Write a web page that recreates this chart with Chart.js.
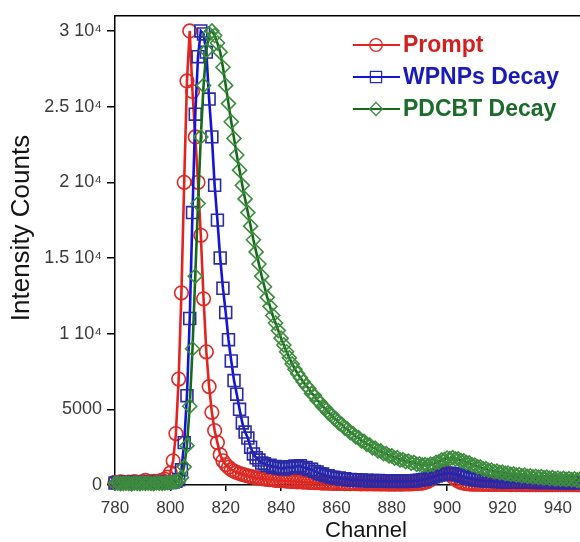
<!DOCTYPE html>
<html>
<head>
<meta charset="utf-8">
<script src="https://cdn.jsdelivr.net/npm/chart.js@4.4.0/dist/chart.umd.min.js"></script>
<style>
  html, body { margin: 0; padding: 0; background: #fff; }
  #wrap { width: 580px; height: 542px; }
</style>
</head>
<body>
<div id="wrap"><canvas id="decayChart" width="580" height="542"></canvas></div>
<script>
const channels = [
  780, 781, 782, 783, 784, 785, 786, 787, 788, 789,
  790, 791, 792, 793, 794, 795, 796, 797, 798, 799,
  800, 801, 802, 803, 804, 805, 806, 807, 808, 809,
  810, 811, 812, 813, 814, 815, 816, 817, 818, 819,
  820, 821, 822, 823, 824, 825, 826, 827, 828, 829,
  830, 831, 832, 833, 834, 835, 836, 837, 838, 839,
  840, 841, 842, 843, 844, 845, 846, 847, 848, 849,
  850, 851, 852, 853, 854, 855, 856, 857, 858, 859,
  860, 861, 862, 863, 864, 865, 866, 867, 868, 869,
  870, 871, 872, 873, 874, 875, 876, 877, 878, 879,
  880, 881, 882, 883, 884, 885, 886, 887, 888, 889,
  890, 891, 892, 893, 894, 895, 896, 897, 898, 899,
  900, 901, 902, 903, 904, 905, 906, 907, 908, 909,
  910, 911, 912, 913, 914, 915, 916, 917, 918, 919,
  920, 921, 922, 923, 924, 925, 926, 927, 928, 929,
  930, 931, 932, 933, 934, 935, 936, 937, 938, 939,
  940, 941, 942, 943, 944, 945, 946, 947, 948
];

const promptCounts = [
  170, 150, 210, 180, 140, 190, 160, 220, 170, 150,
  230, 310, 210, 180, 240, 200, 260, 300, 380, 520,
  800, 1600, 3400, 7000, 12700, 20000, 26700, 30000, 26000, 23000,
  20000, 16500, 12300, 8800, 6500, 4800, 3600, 2800, 2000, 1600,
  1350, 1180, 1010, 920, 830, 760, 700, 650, 600, 560,
  520, 470, 460, 420, 410, 370, 360, 350, 310, 300,
  290, 280, 250, 260, 230, 240, 210, 220, 190, 200,
  170, 180, 160, 150, 160, 130, 140, 120, 130, 110,
  120, 100, 110, 95, 105, 90, 100, 85, 95, 80,
  90, 75, 85, 70, 80, 70, 75, 65, 70, 60,
  65, 60, 70, 55, 65, 70, 80, 75, 95, 100,
  115, 130, 170, 240, 340, 480, 640, 790, 880, 900,
  840, 700, 530, 380, 260, 180, 120, 90, 75, 60,
  55, 50, 55, 45, 50, 40, 45, 40, 45, 35,
  40, 35, 40, 30, 35, 30, 35, 30, 30, 25,
  30, 25, 30, 25, 25, 30, 20, 25, 25, 20,
  25, 20, 25, 20, 20, 25, 20, 20, 15
];

const wpnpsCounts = [
  130, 160, 110, 150, 180, 120, 140, 170, 130, 160,
  120, 150, 180, 140, 110, 160, 130, 170, 150, 190,
  170, 200, 240, 350, 1000, 2800, 5900, 11000, 18000, 24500,
  28300, 30000, 29800, 28600, 25500, 23000, 19800, 17500, 15000, 13000,
  11400, 9600, 8200, 6900, 6000, 5000, 4100, 3500, 3100, 2500,
  2050, 1800, 1650, 1450, 1400, 1280, 1300, 1180, 1220, 1120,
  1150, 1060, 1180, 1200, 1120, 1260, 1220, 1280, 1130, 1160,
  1020, 1040, 900, 860, 740, 720, 620, 610, 520, 520,
  450, 460, 390, 410, 350, 370, 320, 350, 300, 330,
  280, 310, 270, 300, 250, 290, 250, 280, 240, 270,
  230, 280, 240, 270, 230, 260, 250, 280, 270, 300,
  310, 350, 380, 430, 470, 540, 590, 660, 700, 750,
  760, 770, 750, 710, 660, 600, 540, 480, 430, 390,
  350, 330, 300, 290, 260, 260, 240, 240, 220, 230,
  210, 220, 200, 210, 190, 210, 190, 200, 180, 200,
  180, 190, 170, 190, 170, 180, 160, 180, 160, 170,
  160, 170, 150, 170, 150, 160, 150, 160, 150
];

const pdcbtCounts = [
  100, 120, 90, 110, 130, 100, 80, 120, 110, 90,
  130, 100, 120, 110, 90, 140, 120, 100, 130, 150,
  180, 200, 220, 260, 500, 1200, 2600, 5200, 9000, 13800,
  18600, 23000, 26400, 28700, 29800, 30000, 29700, 29200, 28600, 27600,
  26400, 25200, 24000, 22900, 21800, 20800, 19800, 18900, 18000, 17100,
  16200, 15400, 14600, 13800, 13100, 12400, 11800, 11200, 10700, 10200,
  9700, 9250, 8800, 8400, 8000, 7650, 7350, 7080, 6820, 6570,
  6380, 6050, 5920, 5600, 5470, 5180, 5060, 4790, 4680, 4420,
  4330, 4080, 4000, 3760, 3690, 3460, 3400, 3180, 3130, 2920,
  2880, 2680, 2650, 2460, 2440, 2260, 2250, 2080, 2080, 1920,
  1930, 1780, 1800, 1660, 1680, 1550, 1580, 1450, 1490, 1370,
  1400, 1310, 1350, 1290, 1380, 1370, 1500, 1520, 1660, 1670,
  1780, 1750, 1810, 1720, 1730, 1610, 1600, 1470, 1460, 1330,
  1320, 1190, 1190, 1070, 1080, 970, 990, 890, 910, 820,
  850, 760, 790, 700, 730, 650, 690, 610, 650, 570,
  610, 530, 575, 500, 545, 470, 515, 440, 485, 410,
  460, 390, 440, 370, 420, 350, 400, 330, 380
];

const seriesNames = ["Prompt", "WPNPs Decay", "PDCBT Decay"];
const xTickValues = [780, 800, 820, 840, 860, 880, 900, 920, 940];
const yTickValues = [0, 5000, 10000, 15000, 20000, 25000, 30000];
const yTickLabels = ["0", "5000", "1 10\u2074", "1.5 10\u2074", "2 10\u2074", "2.5 10\u2074", "3 10\u2074"];

const FONT = "'Liberation Sans', Arial, sans-serif";

// look of each series: line colour, marker outline, legend text colour, marker shape
const looks = [
  { line: "#e5231e", marker: "#dc2a25", text: "#d41f1f", shape: "circle", radius: 6.8 },
  { line: "#1414d8", marker: "#2a2aa6", text: "#1a1ab8", shape: "rect", radius: 8.4 },
  { line: "#156a1c", marker: "#3e8c3e", text: "#1b6b2b", shape: "rectRot", radius: 7 }
];

const toPoints = (ys) => channels.map((c, i) => ({ x: c, y: ys[i] }));

const makeDataset = (idx, ys, order) => ({
  label: seriesNames[idx],
  data: toPoints(ys),
  borderColor: looks[idx].line,
  borderWidth: 2.6,
  pointStyle: looks[idx].shape,
  pointRadius: looks[idx].radius,
  pointHoverRadius: looks[idx].radius,
  pointBorderWidth: 1.6,
  pointBorderColor: looks[idx].marker,
  pointBackgroundColor: "rgba(0,0,0,0)",
  tension: 0,
  clip: false,
  order: order,
});

function drawMarker(ctx, shape, x, y, r) {
  ctx.beginPath();
  if (shape === "circle") {
    ctx.arc(x, y, r, 0, Math.PI * 2);
  } else if (shape === "rect") {
    const s = r * Math.SQRT1_2;
    ctx.rect(x - s, y - s, 2 * s, 2 * s);
  } else {
    ctx.moveTo(x, y - r);
    ctx.lineTo(x + r, y);
    ctx.lineTo(x, y + r);
    ctx.lineTo(x - r, y);
    ctx.closePath();
  }
  ctx.stroke();
}

const decorations = {
  id: "decorations",
  beforeDatasetsDraw(chart) {
    const { ctx, chartArea } = chart;
    // top frame line
    ctx.save();
    ctx.strokeStyle = "#000";
    ctx.lineWidth = 1.5;
    ctx.beginPath();
    ctx.moveTo(chartArea.left, chartArea.top);
    ctx.lineTo(chartArea.right, chartArea.top);
    ctx.stroke();
    ctx.restore();
  },
  afterDraw(chart) {
    const ctx = chart.ctx;
    ctx.save();

    // legend inside the plot
    const rowsY = [45, 77, 109];
    seriesNames.forEach((name, i) => {
      const y = rowsY[i];
      ctx.strokeStyle = looks[i].line;
      ctx.lineWidth = 2.2;
      ctx.beginPath();
      ctx.moveTo(353, y);
      ctx.lineTo(400, y);
      ctx.stroke();
      ctx.strokeStyle = looks[i].marker;
      ctx.lineWidth = 1.3;
      drawMarker(ctx, looks[i].shape, 376, y, looks[i].radius - 0.5);
      ctx.fillStyle = looks[i].text;
      ctx.font = "bold 23px " + FONT;
      ctx.textAlign = "left";
      ctx.textBaseline = "middle";
      ctx.fillText(name, 403, y + 1);
    });

    // axis titles
    ctx.fillStyle = "#151515";
    ctx.textAlign = "center";
    ctx.textBaseline = "middle";
    ctx.font = "22px " + FONT;
    ctx.fillText("Channel", 366, 531);

    ctx.translate(22, 228);
    ctx.rotate(-Math.PI / 2);
    ctx.font = "26px " + FONT;
    ctx.fillText("Intensity Counts", 0, 0);
    ctx.restore();
  }
};

new Chart(document.getElementById("decayChart"), {
  type: "line",
  data: {
    datasets: [
      makeDataset(2, pdcbtCounts, 1),
      makeDataset(1, wpnpsCounts, 2),
      makeDataset(0, promptCounts, 3),
    ],
  },
  options: {
    responsive: false,
    animation: false,
    events: [],
    layout: { autoPadding: false, padding: { top: 15, right: 0, bottom: 0, left: 0 } },
    plugins: {
      legend: { display: false },
      tooltip: { enabled: false },
    },
    scales: {
      x: {
        type: "linear",
        min: 780,
        max: 948,
        afterBuildTicks: (scale) => {
          scale.ticks = xTickValues.map((v) => ({ value: v }));
        },
        afterFit: (scale) => {
          scale.height = 57;
          scale.paddingLeft = 0;
          scale.paddingRight = 0;
        },
        grid: { drawOnChartArea: false, drawTicks: true, tickLength: 6, color: "#000", lineWidth: 1.5 },
        border: { color: "#000", width: 1.5 },
        ticks: {
          color: "#3a3a3a",
          font: { family: FONT, size: 17 },
          padding: 7,
          maxRotation: 0,
          autoSkip: false,
        },
      },
      y: {
        type: "linear",
        min: 0,
        max: 31000,
        afterBuildTicks: (scale) => {
          scale.ticks = yTickValues.map((v) => ({ value: v }));
        },
        afterFit: (scale) => {
          scale.width = 115;
        },
        grid: { drawOnChartArea: false, drawTicks: true, tickLength: 8, color: "#000", lineWidth: 1.5 },
        border: { color: "#000", width: 1.5 },
        ticks: {
          color: "#3a3a3a",
          font: { family: FONT, size: 18 },
          padding: 5,
          autoSkip: false,
          callback: (value) => yTickLabels[yTickValues.indexOf(value)],
        },
      },
    },
  },
  plugins: [decorations],
});
</script>
</body>
</html>
